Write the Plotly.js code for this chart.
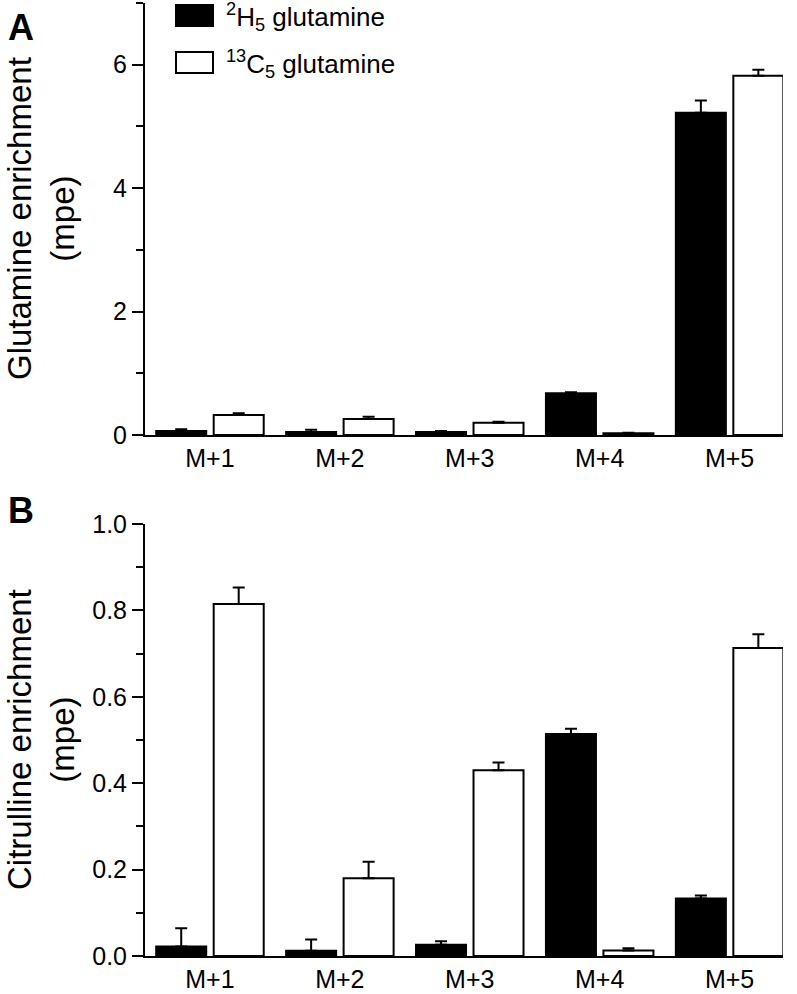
<!DOCTYPE html>
<html>
<head>
<meta charset="utf-8">
<script src="https://cdn.plot.ly/plotly-3.0.1.min.js"></script>
<style>
html,body{margin:0;padding:0;background:#fff;}
#chart{width:797px;height:994px;}
</style>
</head>
<body>
<div id="chart"></div>
<script>
// ---- data ----
const categories = ['M+1', 'M+2', 'M+3', 'M+4', 'M+5'];
const seriesNames = ['<sup>2</sup>H<sub>5</sub> glutamine', '<sup>13</sup>C<sub>5</sub> glutamine'];

// Panel A: glutamine enrichment (mpe)
const glnH2 = [0.065, 0.05, 0.049, 0.676, 5.22];
const glnH2Err = [0.027, 0.035, 0.015, 0.015, 0.2];
const glnC13 = [0.324, 0.26, 0.2, 0.027, 5.82];
const glnC13Err = [0.03, 0.035, 0.015, 0.008, 0.1];

// Panel B: citrulline enrichment (mpe)
const citH2 = [0.022, 0.012, 0.026, 0.514, 0.133];
const citH2Err = [0.042, 0.026, 0.008, 0.012, 0.007];
const citC13 = [0.815, 0.18, 0.43, 0.013, 0.713];
const citC13Err = [0.038, 0.038, 0.018, 0.005, 0.032];

const noLowerErr = [0, 0, 0, 0, 0];

const yTitleA = 'Glutamine enrichment<br>(mpe)';
const yTitleB = 'Citrulline enrichment<br>(mpe)';

// ---- layout helpers ----
const W = 797, H = 994;
const mL = 145, mR = 14, mT = 3, mB = 38;
const pw = W - mL - mR, ph = H - mT - mB;
const px = x => (x - mL) / pw;
const py = y => (H - mB - y) / ph;

const FONT = 'Liberation Sans, Arial, Helvetica, sans-serif';

function barTrace(xa, ya, vals, errs, fill, name) {
  return {
    type: 'bar', x: categories, y: vals, name: name,
    xaxis: xa, yaxis: ya, showlegend: false,
    marker: {color: fill, line: {color: '#000', width: 2}},
    error_y: {type: 'data', symmetric: false, array: errs, arrayminus: noLowerErr,
              color: '#000', thickness: 2, width: 6},
    hoverinfo: 'skip'
  };
}

const data = [
  barTrace('x', 'y', glnH2, glnH2Err, '#000', seriesNames[0]),
  barTrace('x', 'y', glnC13, glnC13Err, '#fff', seriesNames[1]),
  barTrace('x2', 'y2', citH2, citH2Err, '#000', seriesNames[0]),
  barTrace('x2', 'y2', citC13, citC13Err, '#fff', seriesNames[1])
];

const xCommon = {
  type: 'category', range: [-0.5, 4.411],
  showline: true, linecolor: '#000', linewidth: 2,
  ticks: '', showgrid: false, zeroline: false,
  tickfont: {family: FONT, size: 25, color: '#000'}
};
const yCommon = {
  showline: true, linecolor: '#000', linewidth: 2,
  ticks: 'outside', ticklen: 11, tickwidth: 2, tickcolor: '#000',
  showgrid: false, zeroline: false,
  tickfont: {family: FONT, size: 25, color: '#000'}
};

const layout = {
  width: W, height: H,
  margin: {l: mL, r: mR, t: mT, b: mB},
  paper_bgcolor: '#fff', plot_bgcolor: '#fff',
  barmode: 'group', bargap: 0.115, bargroupgap: 0.13,
  showlegend: false,
  font: {family: FONT, color: '#000'},
  xaxis: Object.assign({}, xCommon, {domain: [0, 1], anchor: 'y'}),
  xaxis2: Object.assign({}, xCommon, {domain: [0, 1], anchor: 'y2'}),
  yaxis: Object.assign({}, yCommon, {
    domain: [py(435), py(3)], anchor: 'x', range: [0, 7],
    tick0: 0, dtick: 2,
    minor: {dtick: 1, ticks: 'outside', ticklen: 7, tickwidth: 2, tickcolor: '#000'}
  }),
  yaxis2: Object.assign({}, yCommon, {
    domain: [0, py(524)], anchor: 'x2', range: [0, 1],
    tick0: 0, dtick: 0.2, tickformat: '.1f',
    minor: {dtick: 0.1, ticks: 'outside', ticklen: 7, tickwidth: 2, tickcolor: '#000'}
  }),
  shapes: [
    {type: 'rect', xref: 'paper', yref: 'paper', x0: px(176), x1: px(213), y0: py(26), y1: py(5),
     fillcolor: '#000', line: {color: '#000', width: 2}},
    {type: 'rect', xref: 'paper', yref: 'paper', x0: px(176), x1: px(213), y0: py(73), y1: py(52),
     fillcolor: '#fff', line: {color: '#000', width: 2}}
  ],
  annotations: [
    {text: seriesNames[0], xref: 'paper', yref: 'paper', x: px(224), y: py(17),
     xanchor: 'left', yanchor: 'middle', showarrow: false,
     font: {family: FONT, size: 26, color: '#000'}},
    {text: seriesNames[1], xref: 'paper', yref: 'paper', x: px(224), y: py(64),
     xanchor: 'left', yanchor: 'middle', showarrow: false,
     font: {family: FONT, size: 26, color: '#000'}},
    {text: '<b>A</b>', xref: 'paper', yref: 'paper', x: px(21), y: py(27),
     xanchor: 'center', yanchor: 'middle', showarrow: false,
     font: {family: FONT, size: 36, color: '#000'}},
    {text: '<b>B</b>', xref: 'paper', yref: 'paper', x: px(21), y: py(511),
     xanchor: 'center', yanchor: 'middle', showarrow: false,
     font: {family: FONT, size: 36, color: '#000'}},
    {text: yTitleA, xref: 'paper', yref: 'paper', x: px(41), y: py(219),
     xanchor: 'center', yanchor: 'middle', showarrow: false, textangle: -90,
     font: {family: FONT, size: 33, color: '#000'}},
    {text: yTitleB, xref: 'paper', yref: 'paper', x: px(41), y: py(740),
     xanchor: 'center', yanchor: 'middle', showarrow: false, textangle: -90,
     font: {family: FONT, size: 33, color: '#000'}}
  ]
};

Plotly.newPlot('chart', data, layout, {staticPlot: true, displayModeBar: false});
</script>
</body>
</html>
